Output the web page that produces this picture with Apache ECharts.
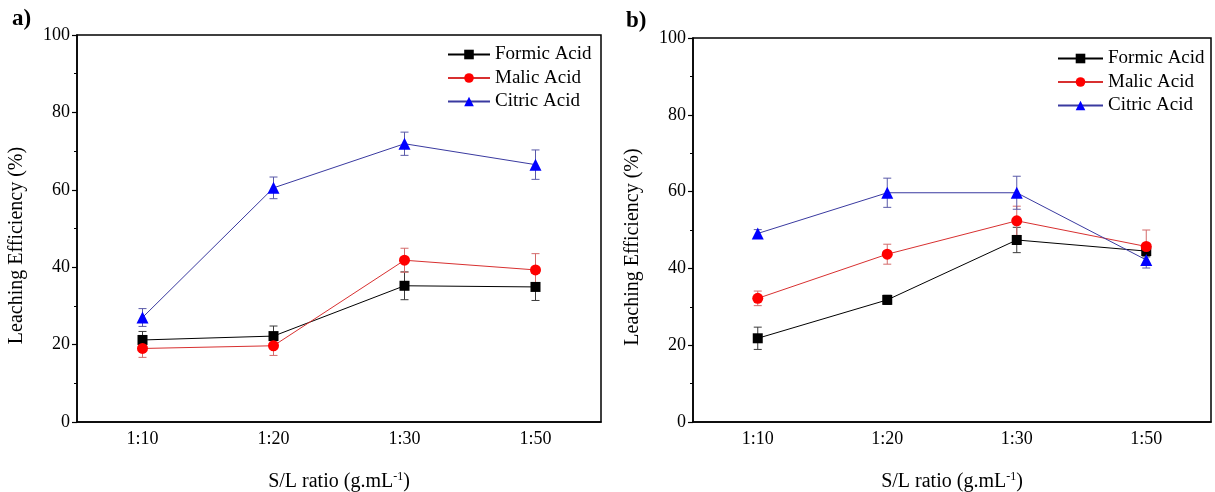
<!DOCTYPE html>
<html>
<head>
<meta charset="utf-8">
<script src="https://cdn.jsdelivr.net/npm/echarts@6/dist/echarts.min.js"></script>
<style>
  html, body { margin: 0; padding: 0; background: #fff; }
  #chart { width: 1215px; height: 492px; }
</style>
</head>
<body>
<div id="chart"></div>
<script>
// S/L ratio categories shared by both panels
const categories = ['1:10', '1:20', '1:30', '1:50'];
const seriesNames = ['Formic Acid', 'Malic Acid', 'Citric Acid'];
const yTicks = [0, 20, 40, 60, 80, 100];

// Panel a) leaching efficiency (%) and standard deviations
const formicA = [21.2, 22.2, 35.2, 34.9];
const formicAErr = [2.2, 2.6, 3.6, 3.5];
const malicA = [19.0, 19.7, 41.8, 39.3];
const malicAErr = [2.3, 2.5, 3.1, 4.2];
const citricA = [27.0, 60.5, 71.9, 66.5];
const citricAErr = [2.3, 2.8, 3.0, 3.8];

// Panel b) leaching efficiency (%) and standard deviations
const formicB = [21.8, 31.8, 47.4, 44.5];
const formicBErr = [2.9, 1.2, 3.3, 1.5];
const malicB = [32.2, 43.7, 52.4, 45.7];
const malicBErr = [1.9, 2.6, 3.8, 4.3];
const citricB = [49.1, 59.7, 59.7, 42.2];
const citricBErr = [1.0, 3.8, 4.3, 2.1];

const FONT = '"Liberation Serif", "Times New Roman", serif';

const styles = [
  { line: '#000000', marker: '#000000', err: '#3a3a3a', symbol: 'rect', size: 10 },
  { line: '#d83030', marker: '#ff0000', err: '#d46a6a', symbol: 'circle', size: 11 },
  { line: '#3a3aa0', marker: '#0000ff', err: '#5a5aa8', symbol: 'triangle', size: 12 }
];

const panels = [
  { values: [formicA, malicA, citricA], errs: [formicAErr, malicAErr, citricAErr] },
  { values: [formicB, malicB, citricB], errs: [formicBErr, malicBErr, citricBErr] }
];

function errorBarSeries(idx, values, errs, style) {
  const data = values.map((v, i) => [i, v - errs[i], v + errs[i]]);
  return {
    type: 'custom',
    xAxisIndex: idx,
    yAxisIndex: idx,
    z: 2,
    silent: true,
    data: data,
    renderItem: function (params, api) {
      const lo = api.coord([api.value(0), api.value(1)]);
      const hi = api.coord([api.value(0), api.value(2)]);
      const w = 4;
      const st = { stroke: style.err, lineWidth: 1 };
      return {
        type: 'group',
        children: [
          { type: 'line', shape: { x1: lo[0], y1: lo[1], x2: hi[0], y2: hi[1] }, style: st },
          { type: 'line', shape: { x1: hi[0] - w, y1: hi[1], x2: hi[0] + w, y2: hi[1] }, style: st },
          { type: 'line', shape: { x1: lo[0] - w, y1: lo[1], x2: lo[0] + w, y2: lo[1] }, style: st }
        ]
      };
    },
    encode: { x: 0, y: [1, 2] }
  };
}

const grids = [
  { left: 77, right: 614, top: 35, bottom: 70 },
  { left: 693, right: 4, top: 38, bottom: 70 }
];

const series = [];
panels.forEach((p, idx) => {
  p.values.forEach((vals, k) => {
    series.push(errorBarSeries(idx, vals, p.errs[k], styles[k]));
  });
  p.values.forEach((vals, k) => {
    const s = styles[k];
    series.push({
      type: 'line',
      name: seriesNames[k],
      xAxisIndex: idx,
      yAxisIndex: idx,
      z: 3,
      data: vals,
      symbol: s.symbol,
      symbolSize: s.size,
      showAllSymbol: true,
      lineStyle: { color: s.line, width: 1 },
      itemStyle: { color: s.marker, borderWidth: 0 },
      emphasis: { disabled: true }
    });
  });
});

const option = {
  animation: false,
  backgroundColor: '#ffffff',
  textStyle: { fontFamily: FONT },
  grid: grids.map(g => Object.assign({
    show: true, borderColor: '#000', borderWidth: 1.5, backgroundColor: 'transparent',
    containLabel: false, outerBoundsMode: 'none'
  }, g)),
  legend: [
    { left: 442, top: 40, itemWidth: 42 },
    { left: 1052, top: 44, itemWidth: 45 }
  ].map(pos => Object.assign({
    orient: 'vertical',
    data: seriesNames,
    itemHeight: 12,
    itemGap: 4.5,
    selectedMode: false,
    textStyle: { fontFamily: FONT, fontSize: 19, color: '#000', lineHeight: 18 }
  }, pos)),
  xAxis: grids.map((g, idx) => ({
    type: 'category',
    gridIndex: idx,
    data: categories,
    boundaryGap: true,
    name: 'S/L ratio (g.mL{sup|-1})',
    nameLocation: 'middle',
    nameGap: 70,
    nameTextStyle: {
      fontFamily: FONT, fontSize: 20, color: '#000', verticalAlign: 'bottom',
      rich: { sup: { fontFamily: FONT, fontSize: 12, color: '#000', verticalAlign: 'bottom', padding: [0, 0, 9, 0] } }
    },
    axisLine: { lineStyle: { color: '#000', width: 1.5 } },
    axisTick: { alignWithLabel: true, length: 5, inside: false, lineStyle: { color: '#000', width: 1.2 } },
    axisLabel: { fontFamily: FONT, fontSize: 18, color: '#000', margin: 8 },
    splitLine: { show: false }
  })),
  yAxis: grids.map((g, idx) => ({
    type: 'value',
    gridIndex: idx,
    min: 0,
    max: 100,
    interval: 20,
    name: 'Leaching Efficiency (%)',
    nameLocation: 'middle',
    nameGap: 50,
    nameTextStyle: { fontFamily: FONT, fontSize: 20, color: '#000', padding: [0, 34, 0, 0] },
    axisLine: { show: true, lineStyle: { color: '#000', width: 1.5 } },
    axisTick: { show: true, length: 5, lineStyle: { color: '#000', width: 1.2 } },
    minorTick: { show: true, splitNumber: 2, length: 3, lineStyle: { color: '#000', width: 1 } },
    axisLabel: { fontFamily: FONT, fontSize: 18, color: '#000', margin: 7, formatter: v => yTicks.includes(v) ? String(v) : '' },
    splitLine: { show: false }
  })),
  graphic: [
    { type: 'text', left: 12, top: 8, style: { text: 'a)', font: 'bold 23px ' + FONT, fill: '#000' } },
    { type: 'text', left: 626, top: 10, style: { text: 'b)', font: 'bold 23px ' + FONT, fill: '#000' } }
  ],
  series: series
};

const chart = echarts.init(document.getElementById('chart'), null, { renderer: 'canvas' });
chart.setOption(option);
</script>
</body>
</html>
